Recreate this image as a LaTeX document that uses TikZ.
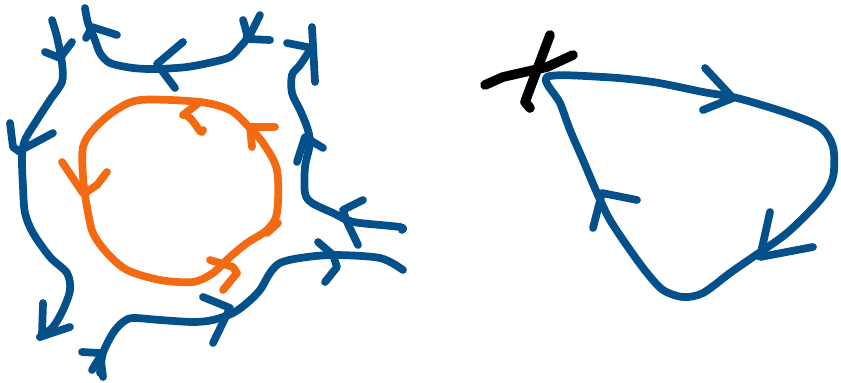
\documentclass[tikz,border=0pt]{standalone}
\usepackage{tikz}
\definecolor{inkblue}{HTML}{03508B}
\definecolor{inkorange}{HTML}{F46A12}
\tikzset{
  blueink/.style={draw=inkblue, line width=4.4pt, line cap=round, line join=round},
  orangeink/.style={draw=inkorange, line width=4.4pt, line cap=round, line join=round},
  blackink/.style={draw=black, line width=5.5pt, line cap=round, line join=round},
}

\begin{document}
\begin{tikzpicture}[x=0.02cm, y=-0.02cm]
      \useasboundingbox (0,0) rectangle (841,382);
      % left picture: outer blue flow lines
      \draw[blueink] plot[smooth, tension=0.5] coordinates {(85,8) (88,23) (95,40) (100,53) (110,63) (133,68) (157,69) (187,67) (213,62) (230,57) (240,47) (247,37) (243,20)};
      \draw[blueink] (183,42) -- (157,64) -- (175,88);
      \draw[blueink] (86,38) -- (92,27) -- (117,35);
      \draw[blueink] (260,15) -- (248,39) -- (270,40);
      \draw[blueink] plot[smooth, tension=0.5] coordinates {(52,20) (57,37) (62,63) (62,82) (50,100) (37,120) (25,140) (22,157) (23,187) (25,213) (33,233) (50,257) (67,273) (70,290) (63,310) (53,327) (40,337)};
      \draw[blueink] (45,52) -- (60,58) -- (72,42);
      \draw[blueink] (10,123) -- (13,147) -- (20,152);
      \draw[blueink] (25,148) -- (40,140) -- (53,133);
      \draw[blueink] (43,303) -- (42,335);
      \draw[blueink] (40,337) -- (70,327);
      \draw[blueink] plot[smooth, tension=0.5] coordinates {(310,50) (300,65) (292,75) (292,93) (300,110) (307,127) (310,143) (305,167) (305,193) (312,203) (333,213) (347,220) (360,223) (400,227) (402,230)};
      \draw[blueink] (297,162) -- (305,137) -- (323,148);
      \draw[blueink] (363,200) -- (343,210) -- (347,222) -- (358,245);
      \draw[blueink] (287,43) -- (312,48);
      \draw[blueink] (312,27) -- (315,82);
      \draw[blueink] plot[smooth, tension=0.5] coordinates {(403,270) (380,258) (333,255) (300,258) (280,263) (270,273) (260,290) (247,303) (233,313) (213,320) (193,322) (160,320) (133,318) (123,322) (113,333) (103,353) (100,373)};
      \draw[blueink] (318,242) -- (333,255) -- (337,267) -- (325,282);
      \draw[blueink] (203,297) -- (230,308) -- (213,343);
      \draw[blueink] (82,352) -- (100,353) -- (103,377);
      \draw[blueink] (92,370) -- (100,357);
      % left picture: orange loop
      \draw[orangeink] plot[smooth cycle, tension=0.5] coordinates {(140,100) (200,102) (230,110) (247,125) (263,143) (277,170) (277,213) (267,230) (247,243) (230,257) (213,273) (193,282) (160,280) (127,270) (107,253) (93,233) (87,207) (83,177) (83,147) (93,130) (113,112)};
      \draw[orangeink] (203,130) to[out=-100, in=10] (183,115) -- (200,102);
      \draw[orangeink] (275,127) -- (250,127) -- (252,147);
      \draw[orangeink] (62,162) -- (83,193);
      \draw[orangeink] (85,193) -- (97,185) -- (107,172);
      \draw[orangeink] (210,260) -- (233,267) -- (237,273) -- (223,290);
      \draw[orangeink] (278,223) -- (267,233);
      % right picture: cross and blue loop
      \draw[blackink] (550,35) -- (525,102) -- (530,108);
      \draw[blackink] (485,85) -- (503,77) -- (547,67) -- (573,55);
      \draw[blueink] plot[smooth cycle, tension=0.5] coordinates {(547,77) (603,77) (653,82) (703,92) (737,98) (787,113) (820,127) (833,147) (833,177) (820,200) (787,233) (753,257) (730,273) (703,293) (683,297) (663,290) (647,273) (630,250) (610,220) (597,193) (583,160) (570,130) (560,103)};
      \draw[blueink] (705,68) -- (733,98) -- (703,110);
      \draw[blueink] (770,212) -- (760,257) -- (813,247);
      \draw[blueink] (637,200) -- (602,193) -- (593,228);
\end{tikzpicture}
\end{document}
